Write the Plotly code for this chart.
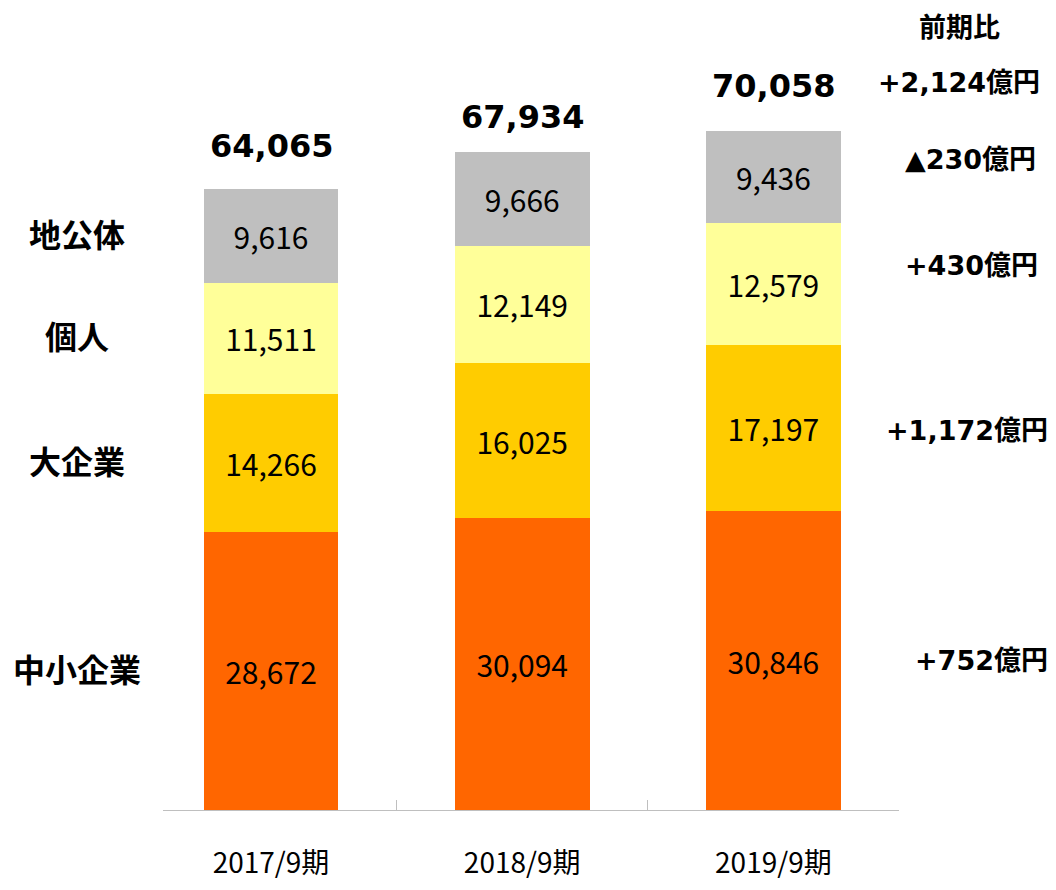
import plotly.graph_objects as go

periods = ["2017/9期", "2018/9期", "2019/9期"]
segments = ["中小企業", "大企業", "個人", "地公体"]
sme = [28672, 30094, 30846]
large = [14266, 16025, 17197]
individual = [11511, 12149, 12579]
localgov = [9616, 9666, 9436]
totals = [64065, 67934, 70058]
yoy_header = "前期比"
yoy_total = "+2,124億円"
yoy_labels = ["+752億円", "+1,172億円", "+430億円", "▲230億円"]

colors = ["#FF6600", "#FFCC00", "#FFFF99", "#BFBFBF"]
series = [sme, large, individual, localgov]

W, H = 1056, 890
L, R, T, B = 163, 157, 35, 80
pw = W - L - R
ph = H - T - B


def px2x(px):
    return (px - L) / pw


def py2y(py):
    return (H - B - py) / ph


num_font = "Noto Sans CJK JP, Noto Sans, sans-serif"
bold_font = "DejaVu Sans, Noto Sans CJK JP, sans-serif"

fig = go.Figure()
for name, vals, col in zip(segments, series, colors):
    fig.add_trace(go.Bar(
        x=periods, y=vals, name=name,
        marker=dict(color=col, line=dict(width=0)),
        text=[f"{v:,}" for v in vals],
        textposition="inside", insidetextanchor="middle",
        textfont=dict(family=num_font, size=30, color="#000000"),
        width=0.537, showlegend=False, hoverinfo="skip",
    ))

annotations = []
# totals above bars
total_shift = [43, 35, 45]
for p, t, s in zip(periods, totals, total_shift):
    annotations.append(dict(
        x=p, y=t, xref="x", yref="y", text=f"<b>{t:,}</b>", showarrow=False,
        yanchor="middle", yshift=s,
        font=dict(family=bold_font, size=32, color="#000000"),
    ))

# left segment labels aligned to first bar segment midpoints
cum = 0
for name, vals in zip(segments, series):
    mid = cum + vals[0] / 2
    cum += vals[0]
    annotations.append(dict(
        x=px2x(77), y=mid, xref="paper", yref="y", text=f"<b>{name}</b>",
        showarrow=False, xanchor="center", yanchor="middle",
        font=dict(family=bold_font, size=32, color="#000000"),
    ))

# right change labels
right_pos = [(959, 27, yoy_header), (959, 82, yoy_total)]
right_ypx = [660, 430, 265, 160]
right_xpx = [981, 967, 972, 970]
for lbl, xp, yp in zip(yoy_labels, right_xpx, right_ypx):
    right_pos.append((xp, yp, lbl))
for xp, yp, lbl in right_pos:
    annotations.append(dict(
        x=px2x(xp), y=py2y(yp), xref="paper", yref="paper", text=f"<b>{lbl}</b>",
        showarrow=False, xanchor="center", yanchor="middle",
        font=dict(family=bold_font, size=27, color="#000000"),
    ))

fig.update_layout(
    width=W, height=H,
    margin=dict(l=L, r=R, t=T, b=B, pad=0, autoexpand=False),
    barmode="stack", bargap=0.46,
    plot_bgcolor="#FFFFFF", paper_bgcolor="#FFFFFF",
    annotations=annotations,
    xaxis=dict(
        range=[-0.43, 2.5], showline=True, linecolor="#BFBFBF", linewidth=1,
        ticks="inside", tickson="boundaries", ticklen=10, tickcolor="#BFBFBF",
        showgrid=False, zeroline=False, ticklabelstandoff=28, automargin=False,
        tickfont=dict(family=num_font, size=28, color="#000000"),
        fixedrange=True,
    ),
    yaxis=dict(range=[0, 80000], visible=False, showgrid=False, zeroline=False,
               automargin=False, fixedrange=True),
)

fig.write_html(
    "out.html",
    config={"displayModeBar": False},
    post_script="document.body.style.margin='0';document.body.style.overflow='hidden';",
)
